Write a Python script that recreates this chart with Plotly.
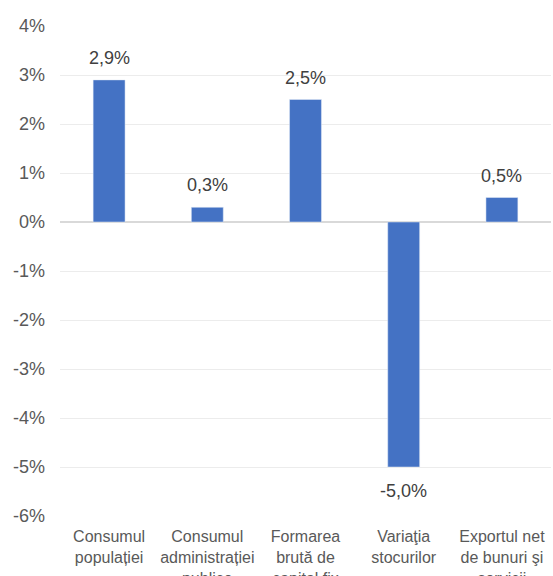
import plotly.graph_objects as go

categories = [
    "Consumul<br>populației",
    "Consumul<br>administrației<br>publice",
    "Formarea<br>brută de<br>capital fix",
    "Variaţia<br>stocurilor",
    "Exportul net<br>de bunuri şi<br>servicii",
]
values = [2.9, 0.3, 2.5, -5.0, 0.5]
tick_vals = [4, 3, 2, 1, 0, -1, -2, -3, -4, -5, -6]
tick_text = ["4%", "3%", "2%", "1%", "0%", "-1%", "-2%", "-3%", "-4%", "-5%", "-6%"]

FONT = "Liberation Sans, Arial, sans-serif"
GREY = "#595959"

fig = go.Figure()
fig.add_trace(go.Bar(x=categories, y=values, marker_color="#4472C4", width=0.325))

for c, v in zip(categories, values):
    txt = f"{v:.1f}".replace(".", ",") + "%"
    fig.add_annotation(
        x=c, y=v, text=txt, showarrow=False,
        yanchor="bottom" if v >= 0 else "top",
        yshift=10 if v >= 0 else -12,
        font=dict(family=FONT, size=18, color="#404040"),
    )

fig.update_layout(
    width=553, height=576,
    margin=dict(l=60, r=2, t=26, b=60),
    plot_bgcolor="white", paper_bgcolor="white",
    showlegend=False,
    font=dict(family=FONT, color=GREY),
    xaxis=dict(
        showgrid=False, showline=False, zeroline=False,
        tickfont=dict(family=FONT, size=16, color=GREY),
        ticks="", ticklabelstandoff=9, automargin=False,
    ),
    yaxis=dict(
        range=[-6, 4], tickvals=tick_vals, ticktext=tick_text,
        showgrid=True, gridcolor="#ececec", gridwidth=1,
        zeroline=True, zerolinecolor="#d9d9d9", zerolinewidth=1.5,
        showline=False, ticks="", automargin=False,
        tickfont=dict(family=FONT, size=18, color=GREY),
        ticklabelstandoff=14,
    ),
)

fig.write_html("out.html")
